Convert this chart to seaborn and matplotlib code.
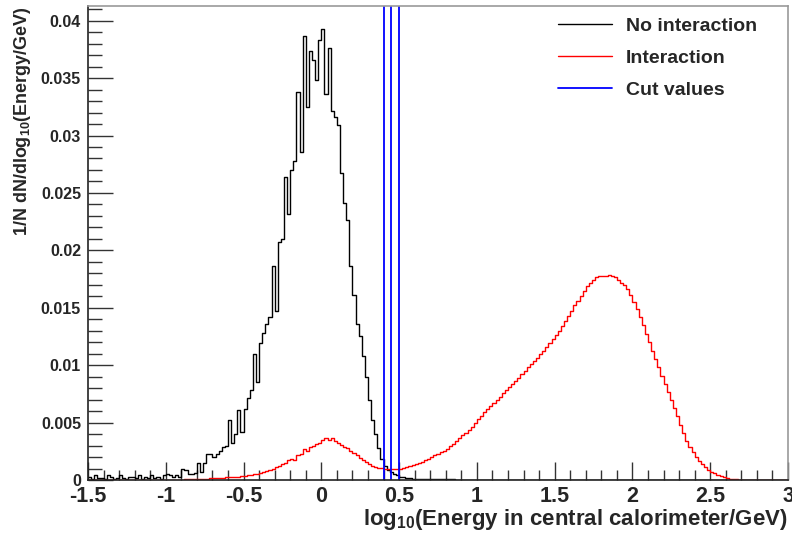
import numpy as np
import pandas as pd
import matplotlib
matplotlib.use("Agg")
import matplotlib.pyplot as plt
from matplotlib.lines import Line2D
from matplotlib.ticker import MultipleLocator
import seaborn as sns

# ---------------- data ----------------
bin_low, bin_high, n_bins = -1.5, 3.0, 225   # histogram binning (0.02 wide)

no_interaction = [
    0.0003, 0.0001, 0.0004, 0.0002, 0.0002, 0.0001, 0.0004, 0.0003, 0.0001, 0.0002,
    0.0004, 0.0002, 0.0001, 0.0003, 0.0003, 0.0002, 0.0004, 0.0001, 0.0003, 0.0002,
    0.0004, 0.0002, 0.0003, 0.0001, 0.0004, 0.0005, 0.0004, 0.0003, 0.0004, 0.0003,
    0.0010, 0.0009, 0.0005, 0.0005, 0.0006, 0.0015, 0.0007, 0.0015, 0.0023, 0.0023,
    0.0020, 0.0023, 0.0025, 0.0029, 0.0030, 0.0052, 0.0032, 0.0040, 0.0061, 0.0042,
    0.0062, 0.0071, 0.0078, 0.0110, 0.0085, 0.0119, 0.0128, 0.0136, 0.0142, 0.0186,
    0.0147, 0.0207, 0.0210, 0.0264, 0.0232, 0.0270, 0.0278, 0.0338, 0.0286, 0.0387,
    0.0325, 0.0374, 0.0366, 0.0348, 0.0383, 0.0393, 0.0336, 0.0376, 0.0321, 0.0316,
    0.0309, 0.0267, 0.0241, 0.0226, 0.0186, 0.0161, 0.0136, 0.0125, 0.0108, 0.0090,
    0.0070, 0.0052, 0.0040, 0.0028, 0.0018, 0.0012, 0.0009, 0.0007, 0.0005, 0.0004,
    0.0003, 0.00025, 0.0002, 0.00015, 0.0001, 0.0001, 0.0001, 0.0001, 0.0001, 0.0001,
    0.00008, 0.00008, 0.00006, 0.00006, 0.00006, 0.00005, 0.00005, 0.00005, 0.00004, 0.00004,
    0.00004, 0.00003, 0.00003, 0.00003, 0.00003, 0.00002, 0.00002, 0.00002, 0.00002, 0.00002,
    0.00001, 0.00001, 0.00001, 0.00001, 0.00001, 0, 0, 0, 0, 0,
    0, 0, 0, 0, 0, 0, 0, 0, 0, 0,
    0, 0, 0, 0, 0, 0, 0, 0, 0, 0,
    0, 0, 0, 0, 0, 0, 0, 0, 0, 0,
    0, 0, 0, 0, 0, 0, 0, 0, 0, 0,
    0, 0, 0, 0, 0, 0, 0, 0, 0, 0,
    0, 0, 0, 0, 0, 0, 0, 0, 0, 0,
    0, 0, 0, 0, 0, 0, 0, 0, 0, 0,
    0, 0, 0, 0, 0, 0, 0, 0, 0, 0,
    0, 0, 0, 0, 0,
]

interaction = [
    0, 0, 0, 0, 0, 0, 0, 0, 0, 0,
    0, 0, 0, 0, 0, 0, 0, 0, 0, 0,
    0, 0, 0, 0, 0, 0.00001, 0.00002, 0.00002, 0.00003, 0.00003,
    0.00004, 0.00005, 0.00006, 0.00007, 0.00008, 0.00009, 0.00010, 0.00012, 0.00013, 0.00015,
    0.00016, 0.00018, 0.00019, 0.00021, 0.00022, 0.00024, 0.00026, 0.00028, 0.00030, 0.00032,
    0.00036, 0.00040, 0.00045, 0.00050, 0.00055, 0.00060, 0.00068, 0.00076, 0.00085, 0.00095,
    0.00110, 0.00120, 0.00138, 0.00150, 0.00170, 0.00185, 0.00175, 0.00215, 0.00225, 0.00270,
    0.00255, 0.00285, 0.00300, 0.00310, 0.00325, 0.00345, 0.00370, 0.00350, 0.00370, 0.00340,
    0.00325, 0.00305, 0.00290, 0.00275, 0.00255, 0.00235, 0.00215, 0.00195, 0.00175, 0.00155,
    0.00140, 0.00125, 0.00115, 0.00108, 0.00102, 0.00098, 0.00095, 0.00093, 0.00093, 0.00095,
    0.00100, 0.00105, 0.00110, 0.00118, 0.00127, 0.00137, 0.00148, 0.00160, 0.00173, 0.00186,
    0.00200, 0.00214, 0.00228, 0.00242, 0.00256, 0.00270, 0.00292, 0.00315, 0.00340, 0.00365,
    0.00390, 0.00410, 0.00435, 0.00460, 0.00495, 0.00530, 0.00560, 0.00590, 0.00615, 0.00645,
    0.00670, 0.00700, 0.00725, 0.00755, 0.00785, 0.00810, 0.00835, 0.00860, 0.00890, 0.00920,
    0.00950, 0.00980, 0.01010, 0.01040, 0.01065, 0.01095, 0.01125, 0.01155, 0.01190, 0.01225,
    0.01260, 0.01300, 0.01340, 0.01385, 0.01430, 0.01475, 0.01520, 0.01560, 0.01605, 0.01650,
    0.01690, 0.01720, 0.01745, 0.01765, 0.01775, 0.01780, 0.01780, 0.01785, 0.01775, 0.01770,
    0.01745, 0.01720, 0.01695, 0.01660, 0.01610, 0.01550, 0.01490, 0.01420, 0.01350, 0.01275,
    0.01200, 0.01125, 0.01050, 0.00980, 0.00910, 0.00840, 0.00770, 0.00700, 0.00630, 0.00555,
    0.00480, 0.00410, 0.00340, 0.00285, 0.00240, 0.00200, 0.00165, 0.00135, 0.00110, 0.00090,
    0.00072, 0.00057, 0.00044, 0.00034, 0.00025, 0.00018, 0.00013, 0.00009, 0.00006, 0.00004,
    0.00003, 0.00002, 0.00001, 0.00001, 0, 0, 0, 0, 0, 0,
    0, 0, 0, 0, 0,
]

cut_values = [0.40, 0.45, 0.50]

series_labels = ["No interaction", "Interaction", "Cut values"]
x_tick_values = [-1.5, -1.0, -0.5, 0.0, 0.5, 1.0, 1.5, 2.0, 2.5, 3.0]
x_tick_labels = ["-1.5", "-1", "-0.5", "0", "0.5", "1", "1.5", "2", "2.5", "3"]
y_tick_values = [0, 0.005, 0.01, 0.015, 0.02, 0.025, 0.03, 0.035, 0.04]
y_tick_labels = ["0", "0.005", "0.01", "0.015", "0.02", "0.025", "0.03", "0.035", "0.04"]

x_label = r"log$_{\mathregular{10}}$(Energy in central calorimeter/GeV)"
y_label = r"1/N dN/dlog$_{\mathregular{10}}$(Energy/GeV)"

# ---------------- style ----------------
sns.set_style("ticks")
plt.rcParams["font.family"] = ["Liberation Sans", "DejaVu Sans"]
plt.rcParams["font.weight"] = "bold"
plt.rcParams["mathtext.default"] = "regular"

binwidth = (bin_high - bin_low) / n_bins
edges = np.linspace(bin_low, bin_high, n_bins + 1)
centers = 0.5 * (edges[:-1] + edges[1:])

df_no = pd.DataFrame({"energy": centers, "w": np.asarray(no_interaction, dtype=float)})
df_in = pd.DataFrame({"energy": centers, "w": np.asarray(interaction, dtype=float)})

fig = plt.figure(figsize=(7.92, 5.38), dpi=100)
ax = fig.add_axes([88 / 792, 1 - 480 / 538, 700 / 792, 474 / 538])

sns.histplot(data=df_no, x="energy", weights="w", binwidth=binwidth,
             binrange=(bin_low, bin_high), element="step", fill=False,
             color="black", linewidth=1.0, ax=ax)
sns.histplot(data=df_in, x="energy", weights="w", binwidth=binwidth,
             binrange=(bin_low, bin_high), element="step", fill=False,
             color="#ff0000", linewidth=1.0, ax=ax)
for c in cut_values:
    ax.axvline(c, color="#0000ff", linewidth=1.3)

ax.set_xlim(bin_low, bin_high)
ax.set_ylim(0, 0.04128)

ax.set_xticks(x_tick_values)
ax.set_xticklabels(x_tick_labels, fontsize=15.5, fontweight="bold")
ax.set_yticks(y_tick_values)
ax.set_yticklabels(y_tick_labels, fontsize=11.5, fontweight="bold")
ax.xaxis.set_minor_locator(MultipleLocator(0.1))
ax.yaxis.set_minor_locator(MultipleLocator(0.001))
ax.tick_params(axis="x", which="major", direction="in", length=13, width=1, pad=4, color="#333333")
ax.tick_params(axis="x", which="minor", direction="in", length=7, width=1, color="#333333")
ax.tick_params(axis="y", which="major", direction="in", length=18, width=1, pad=5, color="#333333")
ax.tick_params(axis="y", which="minor", direction="in", length=10, width=1, color="#333333")

for s in ["left", "bottom"]:
    ax.spines[s].set_color("#222222")
    ax.spines[s].set_linewidth(1.2)
for s in ["top", "right"]:
    ax.spines[s].set_visible(True)
    ax.spines[s].set_color("#999999")
    ax.spines[s].set_linewidth(1.2)

ax.set_xlabel(x_label, fontsize=16, fontweight="bold", loc="right", labelpad=0)
ax.set_ylabel(y_label, fontsize=13, fontweight="bold", loc="top")
ax.yaxis.set_label_coords(-0.078, 1.0)

handles = [Line2D([], [], color="black", linewidth=1.0),
           Line2D([], [], color="#ff0000", linewidth=1.0),
           Line2D([], [], color="#0000ff", linewidth=1.3)]
leg = ax.legend(handles, series_labels, loc="upper right", bbox_to_anchor=(0.956, 0.977),
                frameon=False, borderpad=0, borderaxespad=0, handlelength=2.8,
                handletextpad=0.72, labelspacing=0.76, prop={"size": 14, "weight": "bold"})

fig.savefig("out.png", dpi=100, facecolor="white")
